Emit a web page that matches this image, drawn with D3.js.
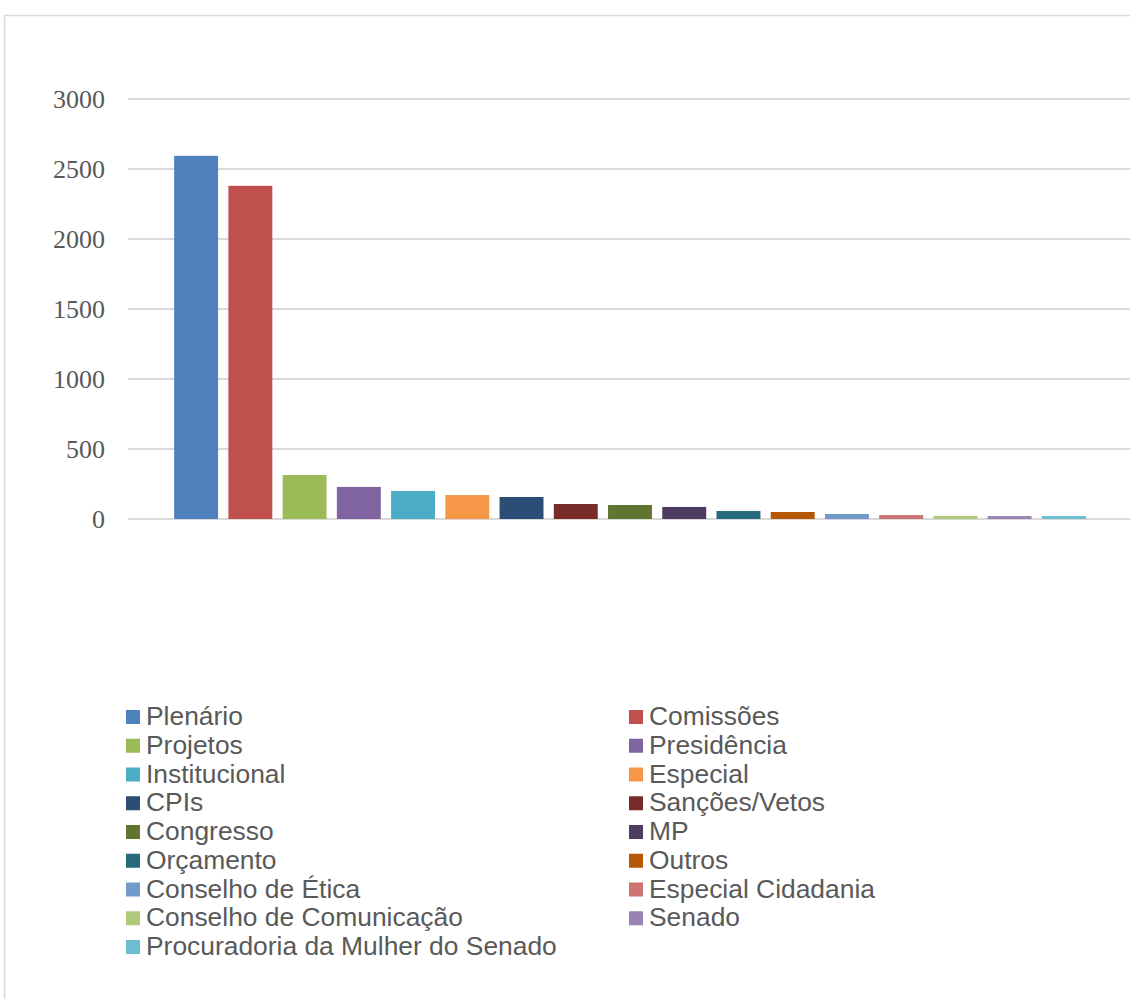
<!DOCTYPE html>
<html>
<head>
    <meta charset="UTF-8">
    <title>Categorias</title>
    <script src="https://d3js.org/d3.v7.min.js"></script>
    <style>
        body {
            margin: 0;
            padding: 0;
            background: #fff;
        }
        .tick-label {
            font-family: "Liberation Serif", serif;
            font-size: 26px;
            fill: #595959;
        }
        .legend-label {
            font-family: "Liberation Sans", Arial, sans-serif;
            font-size: 26.4px;
            fill: #595959;
        }
    </style>
</head>
<body>
    <svg id="chart" width="1130" height="999"></svg>

    <script>
        const categories = [
            "Plenário", "Comissões", "Projetos", "Presidência", "Institucional",
            "Especial", "CPIs", "Sanções/Vetos", "Congresso", "MP", "Orçamento",
            "Outros", "Conselho de Ética", "Especial Cidadania",
            "Conselho de Comunicação", "Senado", "Procuradoria da Mulher do Senado"
        ];
        const values = [2594, 2380, 314, 229, 200, 171, 157, 107, 100, 86, 57, 50, 36, 28, 22, 21, 21];
        const colors = [
            "#4F81BD", "#C0504D", "#9BBB59", "#8064A2", "#4BACC6", "#F79646",
            "#2C4D75", "#772C2A", "#5F7530", "#4D3B62", "#276A7C", "#B65708",
            "#729ACA", "#CD7371", "#AFC97A", "#9983B5", "#6FBDD1"
        ];
        const yTicks = [0, 500, 1000, 1500, 2000, 2500, 3000];

        const data = categories.map((c, i) => ({ name: c, value: values[i], color: colors[i] }));

        const svg = d3.select("#chart");

        // outer frame (only left/top visible in the crop)
        svg.append("rect")
            .attr("x", 4.5)
            .attr("y", 15.5)
            .attr("width", 1200)
            .attr("height", 1100)
            .attr("fill", "none")
            .attr("stroke", "#d9d9d9")
            .attr("stroke-width", 1.5);

        const y = d3.scaleLinear()
            .domain([0, 3000])
            .range([519, 99]);

        const x = d3.scaleBand()
            .domain(categories)
            .range([169, 1091])
            .paddingInner(0.19)
            .paddingOuter(0.095);

        // gridlines
        svg.append("g")
            .selectAll("line")
            .data(yTicks)
            .enter()
            .append("line")
            .attr("x1", 128)
            .attr("x2", 1130)
            .attr("y1", d => y(d))
            .attr("y2", d => y(d))
            .attr("stroke", "#d9d9d9")
            .attr("stroke-width", 2);

        // y labels
        svg.append("g")
            .selectAll("text")
            .data(yTicks)
            .enter()
            .append("text")
            .attr("class", "tick-label")
            .attr("x", 105)
            .attr("y", d => y(d))
            .attr("dy", "0.35em")
            .attr("text-anchor", "end")
            .text(d => d);

        // bars
        svg.append("g")
            .selectAll("rect")
            .data(data)
            .enter()
            .append("rect")
            .attr("x", d => x(d.name))
            .attr("y", d => y(d.value))
            .attr("width", x.bandwidth())
            .attr("height", d => y(0) - y(d.value))
            .attr("fill", d => d.color);

        // legend, two columns
        const legend = svg.append("g");
        const colX = [126, 629];
        const rowY0 = 710, rowStep = 28.75;

        const items = legend.selectAll("g")
            .data(data)
            .enter()
            .append("g")
            .attr("transform", (d, i) => `translate(${colX[i % 2]},${rowY0 + Math.floor(i / 2) * rowStep})`);

        items.append("rect")
            .attr("width", 14)
            .attr("height", 14)
            .attr("fill", d => d.color);

        items.append("text")
            .attr("class", "legend-label")
            .attr("x", 20)
            .attr("y", 15)
            .text(d => d.name);
    </script>
</body>
</html>
